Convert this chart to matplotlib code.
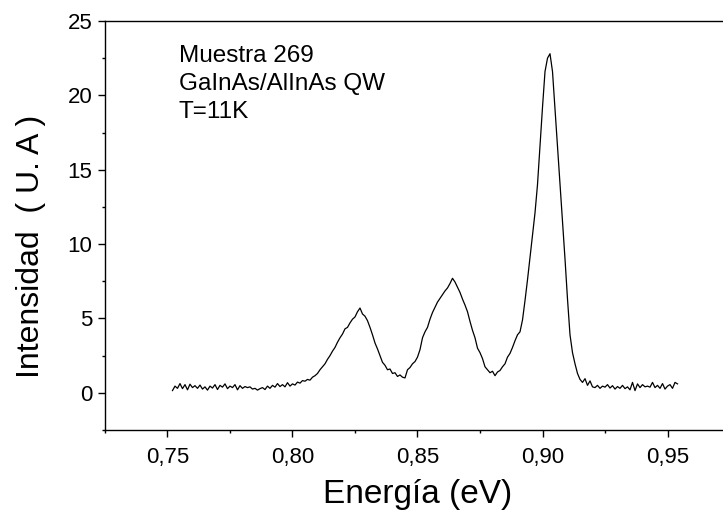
import numpy as np
import matplotlib
matplotlib.use("Agg")
import matplotlib.pyplot as plt
from matplotlib.ticker import MultipleLocator, FuncFormatter

plt.rcParams["font.family"] = ["Liberation Sans", "DejaVu Sans"]

# Espectro de fotoluminiscencia, muestreado cada 1 meV entre 0.752 y 0.954 eV
energia_ini = 0.752
energia_fin = 0.954
intensidad = [
    0.15, 0.45, 0.30, 0.62, 0.28, 0.55, 0.20, 0.58, 0.35, 0.48,
    0.30, 0.52, 0.25, 0.40, 0.18, 0.45, 0.32, 0.55, 0.22, 0.50,
    0.38, 0.60, 0.28, 0.45, 0.35, 0.55, 0.20, 0.48, 0.30, 0.42,
    0.35, 0.40, 0.25, 0.30, 0.18, 0.28, 0.35, 0.22, 0.45, 0.30,
    0.50, 0.38, 0.62, 0.42, 0.55, 0.40, 0.68, 0.45, 0.60, 0.52,
    0.72, 0.65, 0.82, 0.78, 0.90, 0.85, 1.05, 1.15, 1.30, 1.55,
    1.75, 1.95, 2.25, 2.50, 2.80, 3.05, 3.40, 3.70, 3.95, 4.30,
    4.40, 4.70, 4.95, 5.10, 5.45, 5.70, 5.30, 5.15, 4.85, 4.40,
    3.90, 3.35, 2.95, 2.50, 2.05, 1.85, 1.55, 1.60, 1.30, 1.35,
    1.10, 1.20, 1.05, 1.00, 1.55, 1.70, 1.95, 2.10, 2.40, 2.90,
    3.70, 4.10, 4.40, 4.95, 5.40, 5.75, 6.10, 6.35, 6.60, 6.85,
    7.05, 7.35, 7.70, 7.45, 7.10, 6.75, 6.30, 5.90, 5.45, 4.80,
    4.20, 3.70, 3.00, 2.70, 2.30, 1.75, 1.55, 1.35, 1.45, 1.15,
    1.40, 1.50, 1.75, 1.95, 2.40, 2.65, 3.05, 3.50, 3.90, 4.10,
    4.90, 6.20, 7.60, 9.10, 10.60, 12.10, 14.00, 16.60, 19.20, 21.60,
    22.50, 22.80, 21.60, 19.10, 16.60, 14.20, 11.60, 9.00, 6.30, 3.90,
    2.70, 1.95, 1.30, 0.90, 0.70, 0.95, 0.50, 0.80, 0.40, 0.35,
    0.50, 0.30, 0.45, 0.38, 0.55, 0.32, 0.48, 0.25, 0.42, 0.30,
    0.50, 0.28, 0.40, 0.20, 0.70, 0.15, 0.60, 0.35, 0.55, 0.40,
    0.45, 0.38, 0.70, 0.35, 0.50, 0.30, 0.62, 0.25, 0.45, 0.55, 0.30, 0.70, 0.60,
]
energia = np.linspace(energia_ini, energia_fin, len(intensidad))

etiquetas = ["Muestra 269", "GaInAs/AlInAs QW", "T=11K"]

fig = plt.figure(figsize=(7.23, 5.16), dpi=100)
ax = fig.add_axes([0.1452, 0.1667, 0.8645, 0.7926])
ax.plot(energia, intensidad, color="black", lw=0.9)

ax.set_xlim(0.725, 0.975)
ax.set_ylim(-2.5, 25)
ax.xaxis.set_major_locator(MultipleLocator(0.05))
ax.xaxis.set_minor_locator(MultipleLocator(0.025))
ax.yaxis.set_major_locator(MultipleLocator(5))
ax.yaxis.set_minor_locator(MultipleLocator(2.5))
ax.xaxis.set_major_formatter(FuncFormatter(lambda v, p: f"{v:.2f}".replace(".", ",")))

ax.spines["right"].set_visible(False)
for s in ax.spines.values():
    s.set_linewidth(1.0)
ax.tick_params(which="major", direction="out", length=5, width=1, labelsize=16,
               top=False, right=False)
ax.tick_params(which="minor", direction="out", length=2.5, width=1,
               top=False, right=False)
ax.tick_params(axis="x", which="major", pad=7)
ax.tick_params(axis="y", which="major", pad=4)

ax.set_xlabel("Energía (eV)", fontsize=24, labelpad=8)
ax.set_ylabel("Intensidad  ( U. A )", fontsize=23)
ax.yaxis.set_label_coords(-0.094, 0.45)

ax.text(0.7545, 23.4, "\n".join(etiquetas), fontsize=17.5, va="top", ha="left",
        linespacing=1.36)

fig.savefig("out.png", dpi=100)
